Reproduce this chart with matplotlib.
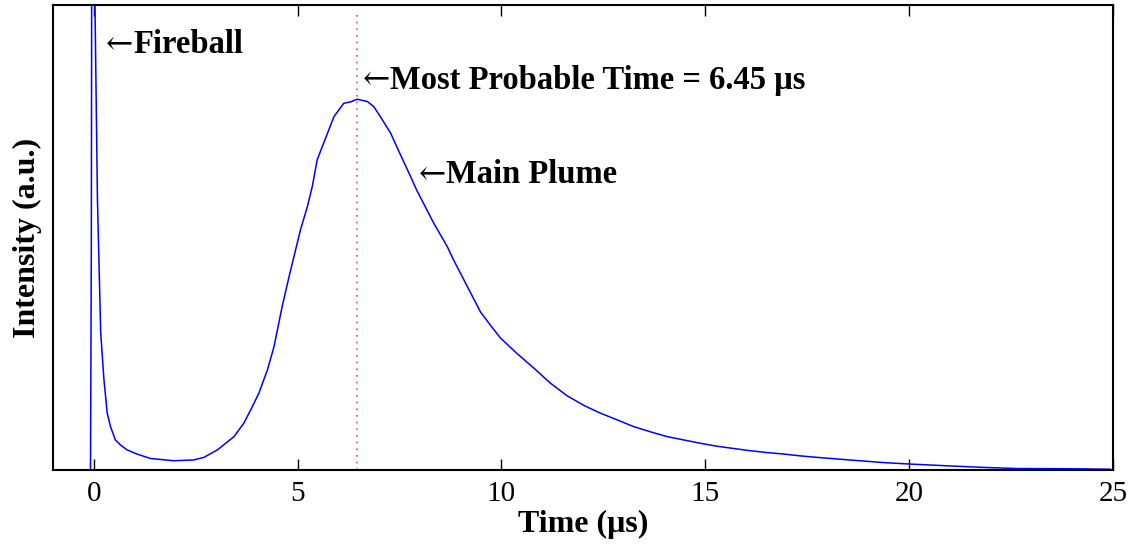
import matplotlib
matplotlib.use("Agg")
import matplotlib.pyplot as plt

# time axis (microseconds) and normalised intensity
time_us = [-0.08, -0.06, -0.03, 0.0, 0.03, 0.09, 0.13, 0.17, 0.25, 0.33, 0.41,
           0.53, 0.66, 0.82, 1.06, 1.39, 1.96, 2.45, 2.70, 3.03, 3.44, 3.68, 3.85,
           4.05, 4.26, 4.42, 4.62, 4.79, 4.99, 5.07, 5.24, 5.36, 5.48, 5.64, 5.89,
           6.13, 6.30, 6.46, 6.71, 6.87, 7.03, 7.28, 7.52, 7.77, 7.93, 8.34, 8.67,
           8.83, 9.16, 9.49, 9.73, 9.98, 10.38, 10.79, 11.20, 11.61, 12.02, 12.43,
           12.84, 13.24, 13.65, 14.06, 14.47, 14.88, 15.29, 15.69, 16.10, 16.51,
           16.92, 17.33, 17.74, 18.55, 19.37, 20.02, 21.0, 21.82, 22.64, 23.46,
           24.27, 24.93]
intensity = [0.0, 0.6, 3.0, 3.0, 1.25, 0.73, 0.55, 0.37, 0.243, 0.153, 0.117,
             0.081, 0.067, 0.054, 0.043, 0.031, 0.025, 0.027, 0.034, 0.054, 0.090,
             0.126, 0.162, 0.207, 0.270, 0.332, 0.440, 0.521, 0.611, 0.647, 0.710,
             0.764, 0.836, 0.881, 0.952, 0.988, 0.992, 0.999, 0.993, 0.979, 0.952,
             0.908, 0.850, 0.791, 0.752, 0.665, 0.602, 0.565, 0.495, 0.425, 0.390,
             0.355, 0.314, 0.275, 0.234, 0.200, 0.174, 0.153, 0.135, 0.117, 0.103,
             0.090, 0.081, 0.072, 0.064, 0.058, 0.052, 0.047, 0.043, 0.038, 0.034,
             0.027, 0.020, 0.016, 0.011, 0.007, 0.004, 0.0036, 0.003, 0.002]

most_probable_time = 6.45
xticks = [0, 5, 10, 15, 20, 25]

# (x, y, label) for the arrow notes
notes = [(0.29, 1.146, "Fireball"),
         (6.60, 1.05, "Most Probable Time = 6.45 \u03bcs"),
         (7.98, 0.795, "Main Plume")]

serif = ["Liberation Serif", "DejaVu Serif"]
plt.rcParams["font.family"] = serif

fig = plt.figure(figsize=(11.32, 5.44), dpi=100)
ax = fig.add_axes([53 / 1132, 1 - 470 / 544, 1060 / 1132, 465 / 544])

ax.plot(time_us, intensity, color="#0000ff", linewidth=1.1)
ax.plot([most_probable_time, most_probable_time], [0, 1.23], color="#ff4d4d",
        linestyle=(0, (1, 3)), linewidth=1.2)

ax.set_xlim(-1, 25)
ax.set_ylim(0, 1.253)
ax.set_xticks(xticks)
ax.set_xticklabels([str(t) for t in xticks])
ax.set_yticks([])
ax.tick_params(axis="x", direction="in", length=8, width=1, top=True,
               labelsize=21, pad=8)
for sp in ax.spines.values():
    sp.set_linewidth(1.5)

ax.set_xlabel("Time (\u03bcs)", fontsize=23, fontweight="bold", labelpad=2)
ax.set_ylabel("Intensity (a.u.)", fontsize=23, fontweight="bold", labelpad=8)

for x, y, label in notes:
    arrow = ax.text(x, y, "\u2190", fontsize=23.5, family="DejaVu Serif",
                    fontweight="light", va="center")
    ax.annotate(label, xy=(1.0, 0.5), xycoords=arrow, va="center", ha="left",
                fontsize=23.5, fontweight="bold")

fig.savefig("out.png", dpi=100)
